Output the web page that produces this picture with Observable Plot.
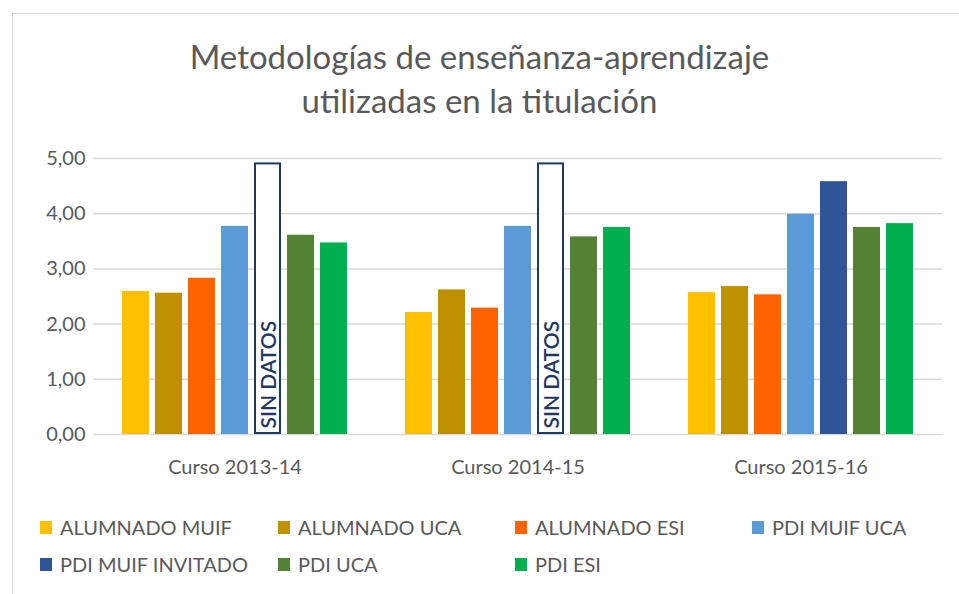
<!DOCTYPE html>
<html>
<head>
<meta charset="utf-8">
<script src="https://cdn.jsdelivr.net/npm/d3@7"></script>
<script src="https://cdn.jsdelivr.net/npm/@observablehq/plot@0.6"></script>
<style>
  html, body { margin: 0; padding: 0; background: #fff; }
  body { width: 959px; height: 594px; position: relative; overflow: hidden; font-family: Lato, "Open Sans", sans-serif; color: #595959; }
  #frame { position: absolute; left: 12px; top: 13px; right: 0; bottom: 0; border-top: 1.5px solid #d9d9d9; border-left: 1.5px solid #d9d9d9; }
  #title { position: absolute; left: 0; width: 959px; top: 34px; text-align: center; font-size: 33px; line-height: 44px; color: #595959; font-weight: 400; }
  #chart { position: absolute; left: 0; top: 140px; }
  #legend { position: absolute; left: 40px; top: 513px; display: grid; grid-template-columns: 238px 237px 237px 200px; row-gap: 9px; font-size: 20px; color: #595959; }
  .item { display: flex; align-items: center; height: 28px; white-space: nowrap; }
  .sw { width: 12px; height: 13px; margin-right: 8px; flex: none; }
</style>
</head>
<body>
<div id="frame"></div>
<div id="title">Metodologías de enseñanza-aprendizaje<br>utilizadas en la titulación</div>
<div id="chart"></div>
<div id="legend"></div>
<script>
const cursos = ["Curso 2013-14", "Curso 2014-15", "Curso 2015-16"];
const series = ["ALUMNADO MUIF", "ALUMNADO UCA", "ALUMNADO ESI", "PDI MUIF UCA", "PDI MUIF INVITADO", "PDI UCA", "PDI ESI"];
const colors = ["#FFC000", "#BF9000", "#FF6300", "#5B9BD5", "#2F5597", "#548235", "#00B050"];
const alumnadoMUIF = [2.59, 2.21, 2.57];
const alumnadoUCA = [2.56, 2.62, 2.68];
const alumnadoESI = [2.83, 2.29, 2.53];
const pdiMUIFUCA = [3.77, 3.77, 3.99];
const pdiMUIFInvitado = [null, null, 4.58];
const pdiUCA = [3.61, 3.58, 3.75];
const pdiESI = [3.47, 3.75, 3.82];
const sinDatosCursos = ["Curso 2013-14", "Curso 2014-15"];
const sinDatosAltura = 4.92;
const sinDatosTexto = "SIN DATOS";
const yTicks = [0, 1, 2, 3, 4, 5];

const seriesValues = [alumnadoMUIF, alumnadoUCA, alumnadoESI, pdiMUIFUCA, pdiMUIFInvitado, pdiUCA, pdiESI];
const data = [];
cursos.forEach((c, i) => series.forEach((s, j) => {
  const v = seriesValues[j][i];
  if (v != null) data.push({curso: c, serie: s, valor: v});
}));
const sinDatos = sinDatosCursos.map(c => ({curso: c, serie: "PDI MUIF INVITADO", valor: sinDatosAltura, texto: sinDatosTexto}));

const fmt = d => d.toFixed(2).replace(".", ",");

const chart = Plot.plot({
  width: 959,
  height: 344,
  marginTop: 18,
  marginBottom: 50,
  marginLeft: 93,
  marginRight: 17,
  style: {fontFamily: "Lato, 'Open Sans', sans-serif", color: "#595959", background: "transparent"},
  fx: {domain: cursos, paddingInner: 0, paddingOuter: 0, label: null},
  x: {domain: series, paddingInner: 0.19, paddingOuter: 0.83, axis: null},
  y: {domain: [0, 5], label: null},
  color: {domain: series, range: colors},
  marks: [
    Plot.gridY(yTicks, {stroke: "#d9d9d9", strokeOpacity: 1, strokeWidth: 1.5}),
    Plot.axisY(yTicks, {tickSize: 0, tickPadding: 8, tickFormat: fmt, fontSize: 20, fill: "#595959", label: null}),
    Plot.axisFx({anchor: "bottom", tickSize: 0, tickPadding: 25, fontSize: 20, fill: "#595959", label: null}),
    Plot.barY(data, {fx: "curso", x: "serie", y: "valor", fill: "serie"}),
    Plot.barY(sinDatos, {fx: "curso", x: "serie", y: "valor", fill: "white", stroke: "#1F3864", strokeWidth: 2, insetTop: 1, insetBottom: 1, insetLeft: 1, insetRight: 1}),
    Plot.text(sinDatos, {fx: "curso", x: "serie", y: 0, text: "texto", rotate: -90, textAnchor: "start", dy: -6, dx: 1, fontSize: 21, fill: "#1F3864", fontWeight: 600})
  ]
});
document.getElementById("chart").appendChild(chart);

const legend = document.getElementById("legend");
series.forEach((s, i) => {
  const item = document.createElement("div");
  item.className = "item";
  const sw = document.createElement("span");
  sw.className = "sw";
  sw.style.background = colors[i];
  const lab = document.createElement("span");
  lab.textContent = s;
  item.appendChild(sw);
  item.appendChild(lab);
  legend.appendChild(item);
});
</script>
</body>
</html>
